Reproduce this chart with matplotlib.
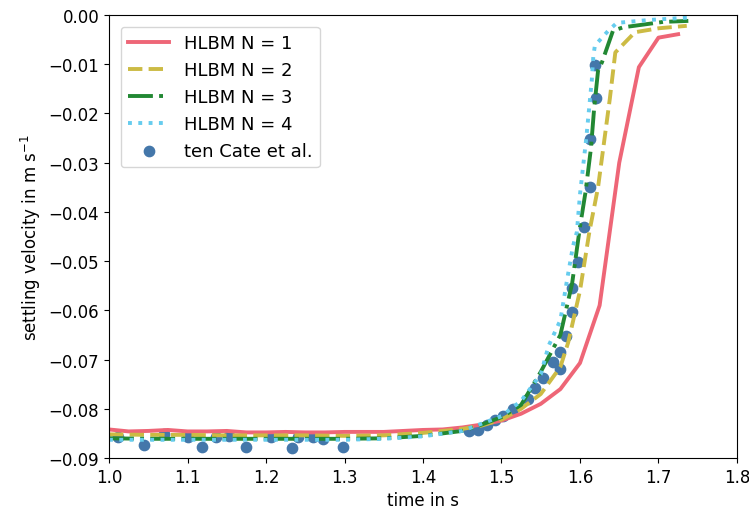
import matplotlib
matplotlib.use("Agg")
import matplotlib.pyplot as plt

# HLBM N = 1
t1 = [1.000, 1.025, 1.050, 1.075, 1.100, 1.125, 1.150, 1.175, 1.200, 1.225,
      1.250, 1.275, 1.300, 1.325, 1.350, 1.375, 1.400, 1.425, 1.450, 1.475,
      1.500, 1.525, 1.550, 1.575, 1.600, 1.625, 1.650, 1.675, 1.700, 1.725]
v1 = [-0.0842, -0.0846, -0.0845, -0.0843, -0.0846, -0.0846, -0.0845, -0.0848, -0.0848, -0.0847,
      -0.0848, -0.0848, -0.0847, -0.0847, -0.0847, -0.0845, -0.0843, -0.0842, -0.0838, -0.0832,
      -0.0824, -0.0810, -0.0790, -0.0760, -0.0707, -0.0590, -0.0300, -0.0106, -0.0046, -0.0039]

# HLBM N = 2
t2 = [1.000, 1.050, 1.100, 1.150, 1.200, 1.250, 1.300, 1.350, 1.400, 1.450,
      1.475, 1.500, 1.525, 1.550, 1.575, 1.585, 1.600, 1.612, 1.623, 1.638,
      1.645, 1.670, 1.700, 1.736]
v2 = [-0.0852, -0.0853, -0.0853, -0.0854, -0.0854, -0.0854, -0.0855, -0.0854, -0.0849, -0.0841,
      -0.0834, -0.0822, -0.0800, -0.0770, -0.0715, -0.0665, -0.0560, -0.0440, -0.0350, -0.0170,
      -0.0076, -0.0035, -0.0027, -0.0022]

# HLBM N = 3
t3 = [1.000, 1.050, 1.100, 1.150, 1.200, 1.250, 1.300, 1.350, 1.400, 1.450,
      1.475, 1.500, 1.525, 1.550, 1.575, 1.590, 1.600, 1.607, 1.614, 1.618,
      1.623, 1.628, 1.642, 1.655, 1.706, 1.738]
v3 = [-0.0860, -0.0861, -0.0861, -0.0861, -0.0861, -0.0861, -0.0861, -0.0860, -0.0855, -0.0845,
      -0.0832, -0.0817, -0.0792, -0.0725, -0.0650, -0.0545, -0.0430, -0.0360, -0.0270, -0.0190,
      -0.0113, -0.0096, -0.0032, -0.0025, -0.0014, -0.0012]

# HLBM N = 4
t4 = [1.000, 1.050, 1.100, 1.150, 1.200, 1.250, 1.300, 1.350, 1.400, 1.450,
      1.475, 1.500, 1.525, 1.550, 1.560, 1.575, 1.583, 1.591, 1.596, 1.600,
      1.608, 1.615, 1.617, 1.619, 1.636, 1.647, 1.689, 1.742]
v4 = [-0.0863, -0.0863, -0.0863, -0.0863, -0.0863, -0.0863, -0.0863, -0.0861, -0.0856, -0.0845,
      -0.0830, -0.0815, -0.0784, -0.0730, -0.0672, -0.0620, -0.0543, -0.0470, -0.0441, -0.0364,
      -0.0250, -0.0133, -0.0083, -0.0062, -0.0032, -0.0016, -0.0010, -0.0005]

# ten Cate et al.
t_ref = [1.012, 1.045, 1.070, 1.100, 1.119, 1.136, 1.153, 1.175, 1.207, 1.233,
         1.241, 1.260, 1.273, 1.2985, 1.458, 1.470, 1.482, 1.492, 1.502, 1.515,
         1.534, 1.543, 1.553, 1.566, 1.5745, 1.574, 1.582, 1.590, 1.590, 1.598,
         1.6055, 1.6127, 1.6127, 1.6204, 1.6191]
v_ref = [-0.0857, -0.0873, -0.0852, -0.0857, -0.0878, -0.0857, -0.0855, -0.0878, -0.0857, -0.0880,
         -0.0857, -0.0857, -0.0862, -0.0878, -0.0845, -0.0843, -0.0832, -0.0822, -0.0814, -0.0800,
         -0.0780, -0.0757, -0.0737, -0.0705, -0.0719, -0.0684, -0.0652, -0.0603, -0.0555, -0.0502,
         -0.0431, -0.0350, -0.0251, -0.0169, -0.0102]

fig = plt.figure(figsize=(7.49, 5.10), dpi=100)
ax = fig.add_axes([109/749, 1 - 459/510, (737 - 109)/749, (459 - 16)/510])

sc = ax.scatter(t_ref, v_ref, s=55, color="#4477AA", label="ten Cate et al.", zorder=1)
l1, = ax.plot(t1, v1, color="#EE6677", lw=2.8, ls="-", label="HLBM N = 1", zorder=2)
l2, = ax.plot(t2, v2, color="#CCBB44", lw=2.8, ls=(0, (3.7, 1.6)), label="HLBM N = 2", zorder=2)
l3, = ax.plot(t3, v3, color="#228833", lw=2.8, ls=(0, (6.4, 1.6, 1, 1.6)), label="HLBM N = 3", zorder=2)
l4, = ax.plot(t4, v4, color="#66CCEE", lw=2.8, ls=(0, (1, 1.65)), label="HLBM N = 4", zorder=2)

ax.set_xlim(1.0, 1.8)
ax.set_ylim(-0.09, 0.0)
ax.set_xticks([1.0, 1.1, 1.2, 1.3, 1.4, 1.5, 1.6, 1.7, 1.8])
ax.set_yticks([-0.09, -0.08, -0.07, -0.06, -0.05, -0.04, -0.03, -0.02, -0.01, 0.0])
ax.tick_params(labelsize=12)
ax.set_xlabel("time in s", fontsize=12)
ax.set_ylabel("settling velocity in m s$^{-1}$", fontsize=12)
ax.legend(handles=[l1, l2, l3, l4, sc], loc="upper left", fontsize=13,
          handlelength=2.3, borderaxespad=0.65)

fig.savefig("out.png", dpi=100)
